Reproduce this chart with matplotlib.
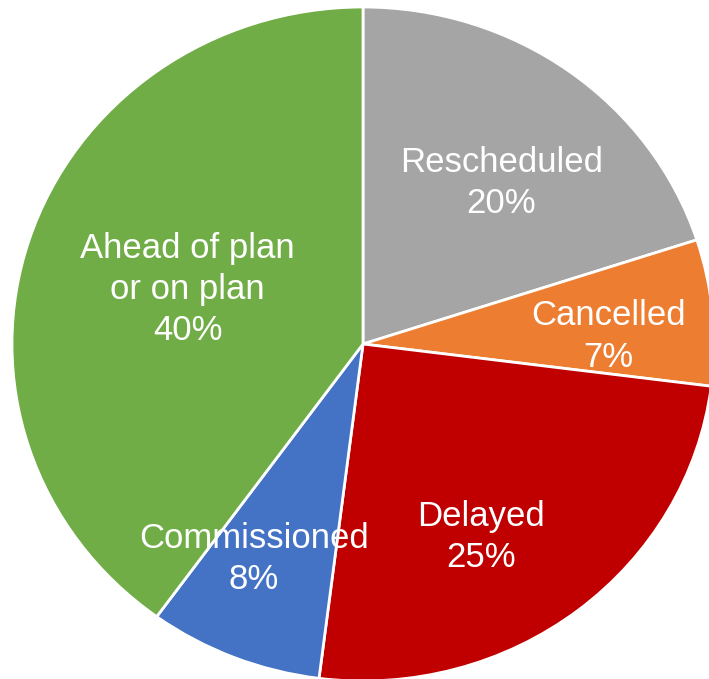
import numpy as np
import matplotlib
matplotlib.use("Agg")
import matplotlib.pyplot as plt

plt.rcParams['font.family'] = ['Liberation Sans', 'DejaVu Sans']

# data, clockwise from 12 o'clock
labels = ["Rescheduled", "Cancelled", "Delayed", "Commissioned", "Ahead of plan\nor on plan"]
shares = [20, 7, 25, 8, 40]
colors = ["#A5A5A5", "#ED7D31", "#C00000", "#4472C4", "#70AD47"]

# label placement (radius fraction, angle tweak in degrees)
label_r = [0.62, 0.70, 0.665, 0.71, 0.525]
label_dang = [-3.5, -3.6, -7.3, -4.4, 0]

W, H, dpi = 709, 679, 100
cx, cy = 363, 344   # pie centre in pixels
Rx, Ry = 351, 337   # the source image is slightly stretched sideways

fig = plt.figure(figsize=(W / dpi, H / dpi), dpi=dpi)
ax = fig.add_axes([0, 0, 1, 1])
wedges, _ = ax.pie(shares, colors=colors, startangle=90, counterclock=False,
                   wedgeprops=dict(edgecolor="white", linewidth=2))

for w, lab, val, r, da in zip(wedges, labels, shares, label_r, label_dang):
    ang = np.deg2rad((w.theta1 + w.theta2) / 2 + da)
    ax.text(r * np.cos(ang), r * np.sin(ang), f"{lab}\n{val}%",
            ha="center", va="center", color="white", fontsize=25,
            linespacing=1.32)

ax.set_xlim(-cx / Rx, (W - cx) / Rx)
ax.set_ylim(-(H - cy) / Ry, cy / Ry)
ax.set_aspect("auto")
ax.axis("off")

fig.savefig("out.png", dpi=dpi)
